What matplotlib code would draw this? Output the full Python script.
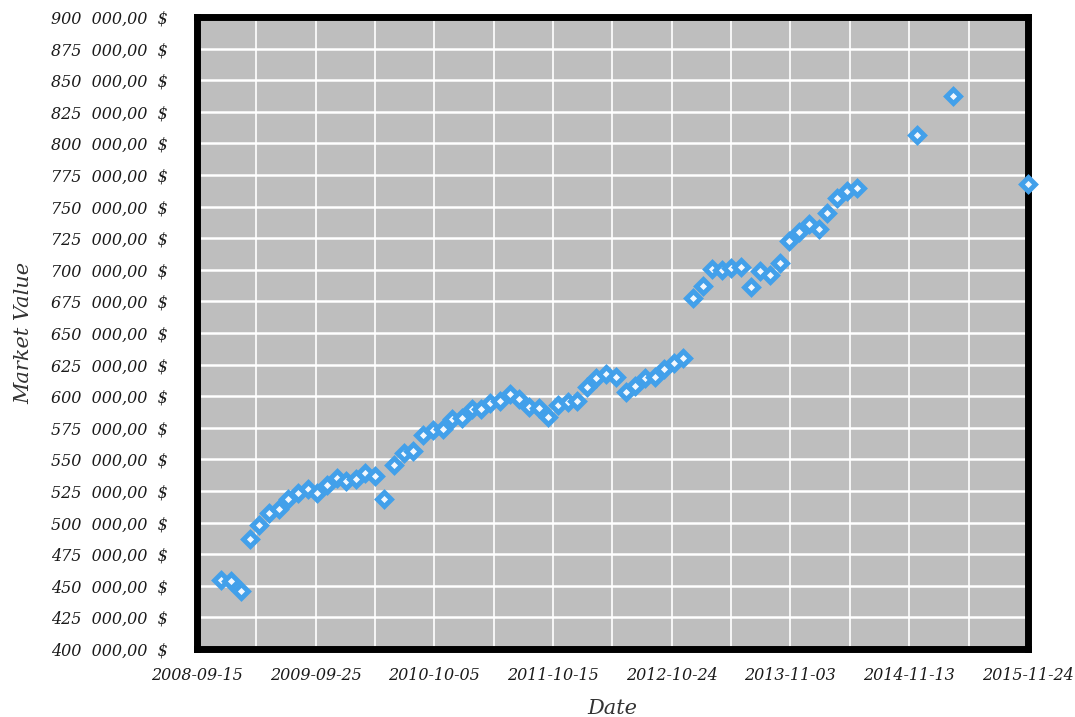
import pandas as pd
import matplotlib
matplotlib.use('Agg')
import matplotlib.pyplot as plt
import matplotlib.dates as mdates
import numpy as np
from matplotlib.ticker import FuncFormatter, FixedLocator

# monthly (end of month) values, then three later readings
dates = ['2008-11-30', '2008-12-31', '2009-01-31', '2009-02-28', '2009-03-31', '2009-04-30',
         '2009-05-31', '2009-06-30', '2009-07-31', '2009-08-31', '2009-09-30', '2009-10-31',
         '2009-11-30', '2009-12-31', '2010-01-31', '2010-02-28', '2010-03-31', '2010-04-30',
         '2010-05-31', '2010-06-30', '2010-07-31', '2010-08-31', '2010-09-30', '2010-10-31',
         '2010-11-30', '2010-12-31', '2011-01-31', '2011-02-28', '2011-03-31', '2011-04-30',
         '2011-05-31', '2011-06-30', '2011-07-31', '2011-08-31', '2011-09-30', '2011-10-31',
         '2011-11-30', '2011-12-31', '2012-01-31', '2012-02-29', '2012-03-31', '2012-04-30',
         '2012-05-31', '2012-06-30', '2012-07-31', '2012-08-31', '2012-09-30', '2012-10-31',
         '2012-11-30', '2012-12-31', '2013-01-31', '2013-02-28', '2013-03-31', '2013-04-30',
         '2013-05-31', '2013-06-30', '2013-07-31', '2013-08-31', '2013-09-30', '2013-10-31',
         '2013-11-30', '2013-12-31', '2014-01-31', '2014-02-28', '2014-03-31', '2014-04-30',
         '2014-05-31', '2014-12-07', '2015-03-31', '2015-11-24']

market_value = [454600, 454000, 446100, 486800, 498100, 507400, 510500, 518700, 523200, 526300,
                523200, 530000, 535300, 533100, 534700, 539000, 536900, 518400, 545600, 554700,
                556600, 569300, 573300, 573800, 581700, 582500, 589600, 590100, 594400, 596400,
                601700, 597500, 591700, 590400, 583800, 593000, 595800, 596400, 607300, 614500,
                617600, 614900, 603500, 608100, 614100, 615400, 621700, 626600, 630000, 677400,
                687200, 700400, 699800, 701200, 702400, 686600, 699300, 695900, 705100, 722400,
                730100, 735900, 732000, 744700, 756500, 762600, 764500, 806600, 837500, 768100]

tick_dates = ['2008-09-15', '2009-09-25', '2010-10-05', '2011-10-15',
              '2012-10-24', '2013-11-03', '2014-11-13', '2015-11-24']

x = mdates.date2num(pd.to_datetime(dates))
y = np.array(market_value) / 1000.0
major = mdates.date2num(pd.to_datetime(tick_dates))
minor = (major[:-1] + major[1:]) / 2

plt.rcParams['font.family'] = ['DejaVu Serif']

fig = plt.figure(figsize=(10.75, 7.17), dpi=100)
ax = fig.add_axes([0.1833, 0.0948, 0.7730, 0.8815])
ax.set_facecolor('#bebebe')

ax.plot(x, y, linestyle='none', marker='D', markersize=7, markeredgewidth=3.5,
        markeredgecolor='#42a0ea', markerfacecolor='#f2f8ff', clip_on=False, zorder=5)

ax.set_xlim(major[0], major[-1])
ax.set_ylim(400, 900)

ax.xaxis.set_major_locator(FixedLocator(major))
ax.xaxis.set_minor_locator(FixedLocator(minor))
ax.set_xticklabels(tick_dates)
ax.yaxis.set_major_locator(FixedLocator(np.arange(400, 901, 25)))
ax.yaxis.set_major_formatter(FuncFormatter(lambda v, p: '%d  000,00  $' % v))

ax.grid(axis='y', which='major', color='white', linewidth=1.8)
ax.grid(axis='x', which='both', color='white', linewidth=1.2)
ax.set_axisbelow(True)

ax.tick_params(which='both', length=0)
ax.tick_params(axis='y', pad=21, labelsize=11.5, colors='#1a1a1a')
ax.tick_params(axis='x', pad=13, labelsize=11.5, colors='#1a1a1a')
for lab in ax.get_xticklabels() + ax.get_yticklabels():
    lab.set_style('italic')

for s in ax.spines.values():
    s.set_linewidth(5)
    s.set_color('black')
    s.set_zorder(4)

ax.set_xlabel('Date', fontsize=15, style='italic', color='#333333', labelpad=11)
ax.set_ylabel('Market Value', fontsize=15, style='italic', color='#333333', labelpad=13)

plt.savefig('out.png', dpi=100)
